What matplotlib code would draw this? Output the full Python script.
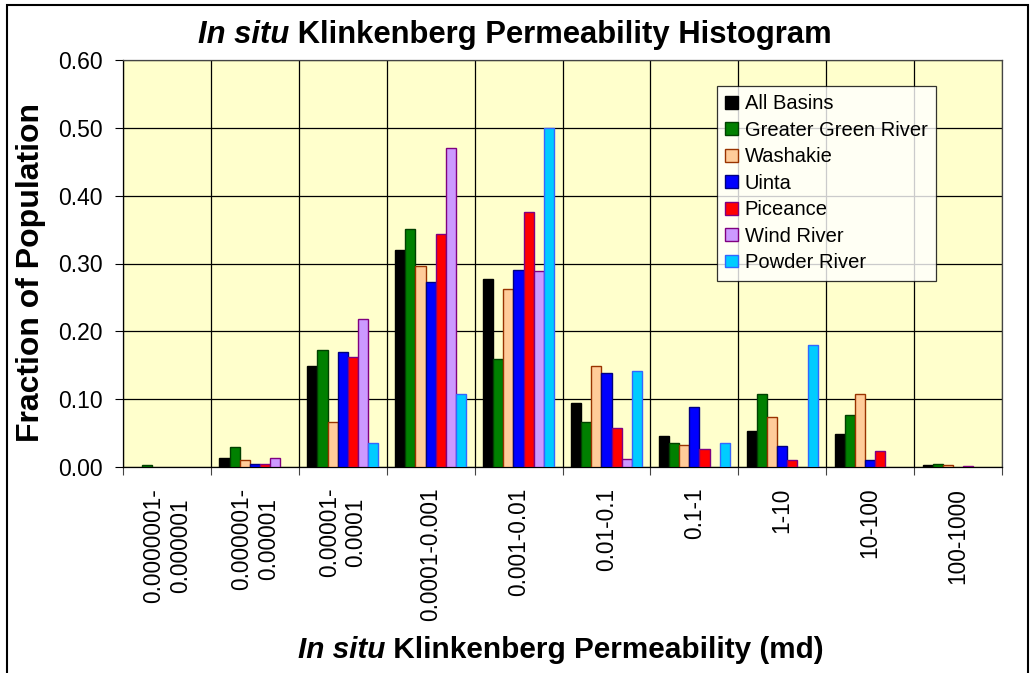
import matplotlib
matplotlib.use("Agg")
import matplotlib.pyplot as plt
from matplotlib.patches import Rectangle
import numpy as np

plt.rcParams['font.family'] = ['Liberation Sans', 'DejaVu Sans']

categories = ["0.0000001-\n0.000001", "0.000001-\n0.00001", "0.00001-\n0.0001",
              "0.0001-0.001", "0.001-0.01", "0.01-0.1", "0.1-1", "1-10", "10-100", "100-1000"]

all_basins    = [0.000, 0.013, 0.149, 0.320, 0.277, 0.095, 0.046, 0.053, 0.049, 0.003]
greater_green = [0.003, 0.029, 0.173, 0.351, 0.159, 0.067, 0.036, 0.107, 0.076, 0.005]
washakie      = [0.000, 0.010, 0.067, 0.296, 0.263, 0.149, 0.033, 0.074, 0.107, 0.003]
uinta         = [0.000, 0.005, 0.169, 0.272, 0.291, 0.138, 0.088, 0.031, 0.010, 0.000]
piceance      = [0.000, 0.005, 0.162, 0.343, 0.376, 0.058, 0.027, 0.010, 0.023, 0.002]
wind_river    = [0.000, 0.013, 0.218, 0.470, 0.289, 0.012, 0.000, 0.000, 0.000, 0.000]
powder_river  = [0.000, 0.000, 0.036, 0.107, 0.500, 0.142, 0.036, 0.180, 0.000, 0.000]

series_names = ["All Basins", "Greater Green River", "Washakie", "Uinta",
                "Piceance", "Wind River", "Powder River"]
series_values = [all_basins, greater_green, washakie, uinta, piceance, wind_river, powder_river]
fill_colors = ["#000000", "#008000", "#FFCC99", "#0000FF", "#FF0000", "#CC99FF", "#00CCFF"]
edge_colors = ["#000000", "#004000", "#993300", "#000080", "#800080", "#800080", "#3366FF"]

W, H = 1035, 673
fig = plt.figure(figsize=(W / 100, H / 100), dpi=100)
fig.patch.set_facecolor("white")

# plot area in pixels
L, R, T, B = 123, 1002, 60, 467
ax = fig.add_axes([L / W, 1 - B / H, (R - L) / W, (B - T) / H])
ax.set_facecolor("#FFFFCC")

n_cat = len(categories)
n_ser = len(series_names)
bw = 0.1152
x = np.arange(n_cat) + 0.5
handles = []
for j, (vals, fc, ec, name) in enumerate(zip(series_values, fill_colors, edge_colors, series_names)):
    lws = [1.0 if v > 0 else 0.0 for v in vals]
    ax.bar(x + (j - (n_ser - 1) / 2) * bw, vals, width=bw, color=fc, edgecolor=ec,
           linewidth=lws, zorder=3)
    handles.append(Rectangle((0, 0), 1, 1, facecolor=fc, edgecolor=ec, linewidth=1.0, label=name))

ax.set_xlim(0, n_cat)
ax.set_ylim(0, 0.60)
ax.set_yticks(np.arange(0, 0.61, 0.1))
ax.set_yticklabels([f"{v:.2f}" for v in np.arange(0, 0.61, 0.1)], fontsize=16.5)
ax.set_xticks(np.arange(0, n_cat + 1))
ax.set_xticklabels([])
ax.set_xticks(x, minor=True)
ax.set_xticklabels(categories, minor=True, rotation=90, fontsize=16.3,
                   va="top", ha="center", multialignment="center")
ax.tick_params(axis="x", which="minor", length=0, pad=15)
ax.tick_params(axis="x", which="major", length=6, direction="out", width=0.8, color="#444444")
ax.tick_params(axis="y", length=6, direction="out", width=0.8, pad=8.5)
ax.grid(True, which="major", axis="both", color="black", linewidth=0.9, zorder=0)
ax.set_axisbelow(True)
for s in ax.spines.values():
    s.set_color("#444444")
    s.set_linewidth(0.9)
ax.spines["left"].set_color("black")
ax.spines["bottom"].set_color("black")

leg = fig.legend(handles=handles, loc="upper left", bbox_to_anchor=(717 / W, 1 - 86 / H),
                 bbox_transform=fig.transFigure, fontsize=14.5, frameon=True, fancybox=False,
                 borderaxespad=0, borderpad=0.42, labelspacing=0.37, handlelength=0.6,
                 handleheight=0.6, handletextpad=0.35)
leg.get_frame().set_edgecolor("black")
leg.get_frame().set_linewidth(0.9)

fig.text(31 / W, 1 - 272 / H, "Fraction of Population", fontsize=23, fontweight="bold",
         rotation=90, ha="center", va="center")

fig.canvas.draw()
renderer = fig.canvas.get_renderer()


def mixed(xc, yc, parts, size):
    texts, widths = [], []
    for s, style in parts:
        t = fig.text(0, 0, s, fontsize=size, fontweight="bold", fontstyle=style,
                     va="center", ha="left")
        widths.append(t.get_window_extent(renderer).width)
        texts.append(t)
    xx = xc - sum(widths) / 2
    for t, w in zip(texts, widths):
        t.set_position((xx / W, 1 - yc / H))
        xx += w


mixed(515, 35, [("In situ", "italic"), (" Klinkenberg Permeability Histogram", "normal")], 22.3)
mixed(561, 650, [("In situ", "italic"), (" Klinkenberg Permeability (md)", "normal")], 21.4)

fig.patches.append(Rectangle((7 / W, -0.05), (1028 - 7) / W, 1.05 - 5 / H,
                             transform=fig.transFigure, fill=False, edgecolor="black",
                             linewidth=1.5))

fig.savefig("out.png", dpi=100)
